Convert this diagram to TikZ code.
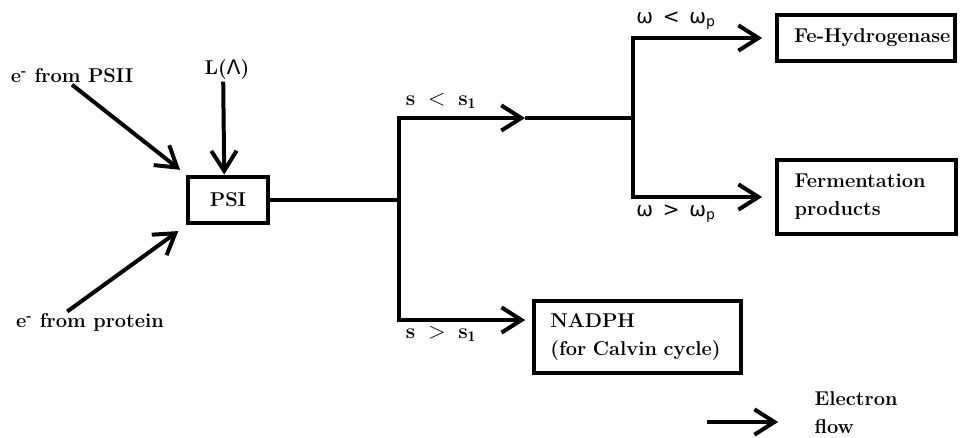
\documentclass[tikz,border=0pt]{standalone}
\usepackage{fontspec}
\newfontfamily\greekfont{DejaVu Sans}
\usepackage{tikz}
\usetikzlibrary{arrows.meta}

\tikzset{
  wire/.style={line width=3pt, line join=miter},
  flow/.style={wire, -{Straight Barb[length=15pt,width=19pt,line width=3pt]}},
  box/.style={draw, line width=3pt, anchor=west, align=left, inner xsep=0.42cm,
    font=\fontsize{15}{21}\selectfont\bfseries},
  txt/.style={font=\fontsize{15}{21}\selectfont\bfseries, inner sep=1pt},
  cond/.style={font=\fontsize{16}{18}\selectfont, inner sep=1pt},
  omega/.style={font=\fontsize{15}{17}\selectfont\greekfont, inner sep=1pt}
}

\begin{document}
\begin{tikzpicture}[x=0.0264cm, y=-0.0264cm]
\useasboundingbox (0,0) rectangle (961,437);

% inputs
\node[txt] (psii) at (72,76) {e\textsuperscript{-} from PSII};
\node[txt] (prot) at (90,322) {e\textsuperscript{-} from protein};
\node[txt] (light) at (227,70) {L({\greekfont\mdseries Λ})};
\node[box, minimum width=2.11cm, minimum height=1.24cm, inner xsep=0pt, align=center, anchor=center] (psi) at (228,200) {PSI};

\draw[flow, shorten >=0.2cm] (psii.south) -- (psi.north west);
\draw[flow, shorten >=0.25cm] ([xshift=-0.6cm]prot.north) -- (psi.south west);
\draw[flow] ([xshift=-0.1cm]light.south) -- ([xshift=-0.1cm]psi.north);

% outputs
\node[box, minimum width=4.70cm, minimum height=1.24cm, text width=3.8cm] (hyd) at (775,38) {\mbox{Fe-Hydrogenase}};
\node[box, minimum width=4.73cm, minimum height=1.95cm, text width=3.8cm] (ferm) at (775,197) {Fermentation\\products};
\node[box, minimum width=5.46cm, minimum height=1.90cm, text width=4.6cm] (nadph) at (532,337) {NADPH\\\mbox{(for Calvin cycle)}};

\coordinate (split) at (399,200);
\coordinate (upmid) at (525,118);
\coordinate (fork) at (633,118);
\coordinate (down) at (399,320);

\draw[flow] (psi.east) -- (split) |- (upmid);
\draw[wire] (upmid) -- (fork);
\draw[flow, shorten >=0.34cm] (fork) |- (hyd.west);
\draw[flow, shorten >=0.34cm] (fork) |- (ferm.west);
\draw[flow, shorten >=0.18cm] (split) |- (down -| nadph.west);

% branch conditions
\node[cond] (slow) at (441,101) {\textbf{s}\hspace{0.6em}$<$\hspace{0.6em}\textbf{s}$_{\mathbf{1}}$};
\node[cond] (shigh) at (441,334) {\textbf{s}\hspace{0.6em}$>$\hspace{0.6em}\textbf{s}$_{\mathbf{1}}$};
\node[omega] (wlow) at (676,21) {ω\, <\, ω\textsubscript{p}};
\node[omega] (whigh) at (676,214) {ω\, >\, ω\textsubscript{p}};

% key
\node[txt, anchor=west, align=left] (legend) at (813,413) {Electron\\flow};
\coordinate (key) at (707,422);
\draw[flow, shorten >=0.92cm] (key) -- (key -| legend.west);
\end{tikzpicture}
\end{document}
